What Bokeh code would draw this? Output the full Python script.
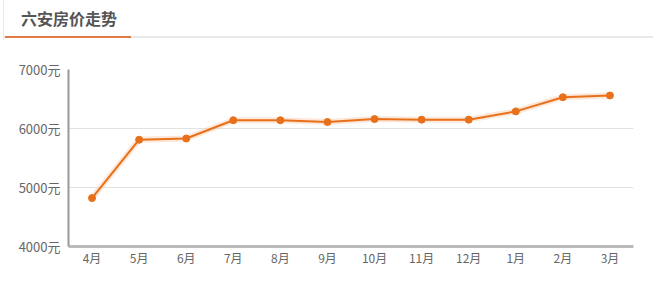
from bokeh.plotting import figure
from bokeh.models import Div, ColumnDataSource, FixedTicker, PrintfTickFormatter, Range1d
from bokeh.layouts import column
from bokeh.embed import file_html
from bokeh.resources import INLINE

title = "六安房价走势"
months = ["4月", "5月", "6月", "7月", "8月", "9月", "10月", "11月", "12月", "1月", "2月", "3月"]
prices = [4820, 5810, 5830, 6140, 6140, 6110, 6160, 6150, 6150, 6290, 6530, 6560]
y_ticks = [4000, 5000, 6000, 7000]

FONT = "'Noto Sans CJK SC', 'Noto Sans', sans-serif"

header = Div(
    text=f'<div style="position:relative;width:653px;height:40px;">'
         f'<div style="position:absolute;left:3px;top:0;width:1px;height:40px;background:#e6e6e6;"></div>'
         f'<div style="position:absolute;left:21px;top:6px;font-family:{FONT};font-size:16px;line-height:24px;font-weight:bold;color:#555555;">{title}</div>'
         f'<div style="position:absolute;left:4px;top:36px;width:649px;height:2px;background:#e8e8e8;"></div>'
         f'<div style="position:absolute;left:5px;top:36px;width:126px;height:2px;background:#e07b45;"></div>'
         f'</div>',
    width=653, height=40, margin=(0, 0, 0, 0),
)

src = ColumnDataSource(dict(m=months, p=prices))

p = figure(
    x_range=months, y_range=Range1d(4000, 7000),
    width=653, height=244, output_backend="svg", toolbar_location=None,
    min_border_left=68, min_border_right=20, min_border_top=29, min_border_bottom=38,
    margin=(0, 0, 0, 0),
)
p.x_range.range_padding = 0.0
p.outline_line_color = None
p.background_fill_color = "white"
p.border_fill_color = "white"

p.yaxis.ticker = FixedTicker(ticks=y_ticks)
p.yaxis.formatter = PrintfTickFormatter(format="%d元")
p.yaxis.axis_line_color = "#999999"
p.yaxis.axis_line_width = 2
p.yaxis.major_tick_line_color = None
p.yaxis.minor_tick_line_color = None
p.yaxis.major_tick_out = 0
p.yaxis.major_tick_in = 0
p.yaxis.major_label_standoff = 8
p.yaxis.major_label_text_font = "Noto Sans CJK SC"
p.yaxis.major_label_text_font_size = "13px"
p.yaxis.major_label_text_color = "#666666"

p.xaxis.axis_line_color = "#bbbbbb"
p.xaxis.axis_line_width = 3
p.xaxis.major_tick_line_color = None
p.xaxis.minor_tick_line_color = None
p.xaxis.major_tick_out = 0
p.xaxis.major_tick_in = 0
p.xaxis.major_label_standoff = 2
p.xaxis.major_label_text_font = "Noto Sans CJK SC"
p.xaxis.major_label_text_font_size = "12px"
p.xaxis.major_label_text_color = "#666666"

p.xgrid.grid_line_color = None
p.ygrid.ticker = FixedTicker(ticks=y_ticks)
p.ygrid.grid_line_color = "#e2e2e2"
p.ygrid.grid_line_width = 1

p.line("m", "p", source=src, line_color="#f7c4a0", line_width=6, line_alpha=0.4)
p.line("m", "p", source=src, line_color="#e8701a", line_width=2)
p.scatter("m", "p", source=src, size=7, fill_color="#e8701a", line_color="#e8701a")

layout = column(header, p, spacing=0)
open("out.html", "w").write(file_html(layout, INLINE))
